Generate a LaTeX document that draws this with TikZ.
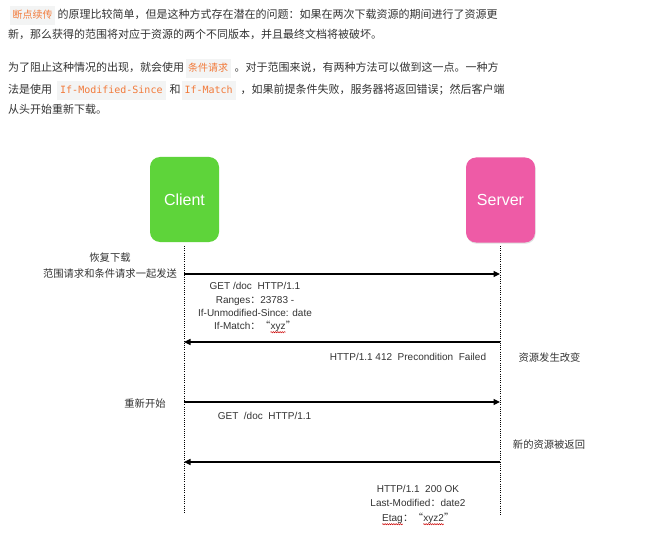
\documentclass[tikz,border=0pt]{standalone}
\usepackage{fontspec}
\setmainfont{Liberation Sans}
\newfontfamily\cjk{Noto Sans CJK SC}
\newfontfamily\codefont{DejaVu Sans Mono}
\usetikzlibrary{arrows.meta,shadows,decorations.pathmorphing}
\definecolor{txt}{HTML}{333333}
\definecolor{codefg}{HTML}{F27A3A}
\definecolor{codebg}{HTML}{F3F4F4}
\definecolor{cgreen}{HTML}{5ED43A}
\definecolor{spink}{HTML}{EE5BA6}
\newcommand{\hlcn}[1]{{\setlength{\fboxsep}{0pt}\colorbox{codebg}{\rule[-5.7bp]{0pt}{19bp}\hspace{2.5bp}{\cjk\fontsize{10bp}{10bp}\selectfont\color{codefg}#1}\hspace{2.5bp}}}}
\newcommand{\hlcode}[1]{{\setlength{\fboxsep}{0pt}\colorbox{codebg}{\rule[-5.7bp]{0pt}{19bp}\hspace{3bp}{\codefont\fontsize{10bp}{10bp}\selectfont\color{codefg}#1}\hspace{3bp}}}}
\newcommand{\squig}[1]{\tikz[baseline=(w.base)]{\node[inner sep=0pt,outer sep=0pt](w){#1};\draw[red!80!black,line width=0.5bp,decorate,decoration={snake,amplitude=0.6bp,segment length=2.2bp}]([yshift=-2.6bp]w.base west)--([yshift=-2.6bp]w.base east);}}
\newcommand{\fw}[1]{{\cjk #1}}
\begin{document}
\begin{tikzpicture}[x=1bp,y=-1bp,
  body/.style={anchor=base west,inner sep=0pt,text=txt,font={\cjk\fontsize{11bp}{20bp}\selectfont}},
  lbl/.style={anchor=base,inner sep=0pt,text=txt,font={\fontsize{10bp}{12bp}\selectfont}},
  cnlbl/.style={anchor=base,inner sep=0pt,text=txt,font={\cjk\fontsize{10.3bp}{12bp}\selectfont}},
  actor/.style={rounded corners=10bp,minimum width=69bp,minimum height=85bp,text=white,font={\fontsize{16bp}{18bp}\selectfont},inner sep=0pt},
  life/.style={line width=1bp,dash pattern=on 1bp off 1.2bp},
  msg/.style={line width=1.1bp,-{Triangle[length=6.5bp,width=6bp]}}]
\useasboundingbox (0,0) rectangle (658,556);
\fill[white] (0,0) rectangle (658,556);
% text paragraphs
\node[body] (p1) at (10,19) {\hlcn{断点续传}\hspace{2.5bp}的原理比较简单，但是这种方式存在潜在的问题：如果在两次下载资源的期间进行了资源更};
\node[body] (p2) at (8,39) {新，那么获得的范围将对应于资源的两个不同版本，并且最终文档将被破坏。};
\node[body] (p3) at (8,72) {为了阻止这种情况的出现，就会使用\hspace{1.5bp}\hlcn{条件请求}\hspace{4bp}。对于范围来说，有两种方法可以做到这一点。一种方};
\node[body] (p4) at (8,94) {法是使用\hspace{5bp}\hlcode{If-Modified-Since}\hspace{4bp}和\hspace{1bp}\hlcode{If-Match}\hspace{5bp}，如果前提条件失败，服务器将返回错误；然后客户端};
\node[body] (p5) at (8,114) {从头开始重新下载。};
% actors
\node[actor,fill=cgreen] (client) at (184.5,199.5) {Client};
\node[actor,fill=spink,drop shadow={shadow xshift=0.6bp,shadow yshift=-1.2bp,opacity=0.25}] (server) at (500.5,200) {Server};
% lifelines
\coordinate (ctop) at (184,246);
\coordinate (cbot) at (184,513);
\coordinate (stop) at (500,246);
\coordinate (sbot) at (500,515);
\draw[life] (ctop) -- (cbot);
\draw[life] (stop) -- (sbot);
% message anchors
\coordinate (c1) at (184,274); \coordinate (s1) at (500,274);
\coordinate (c2) at (184,342); \coordinate (s2) at (500,342);
\coordinate (c3) at (184,402); \coordinate (s3) at (500,402);
\coordinate (c4) at (184,462); \coordinate (s4) at (500,462);
\draw[msg] (c1) -- (s1);
\draw[msg] (s2) -- (c2);
\draw[msg] (c3) -- (s3);
\draw[msg] (s4) -- (c4);
% labels
\node[cnlbl] (l1a) at (110,262) {恢复下载};
\node[cnlbl] (l1b) at (110,277) {范围请求和条件请求一起发送};
\node[lbl] (r1) at (255,289.6) {GET /doc~ HTTP/1.1};
\node[lbl] (r2) at (255,303.6) {Ranges\fw{：}23783 -};
\node[lbl] (r3) at (255,316.6) {If-Unmodified-Since: date};
\node[lbl] (r4) at (255,329.6) {If-Match\fw{：}\fw{“}\squig{xyz}\fw{”}};
\node[lbl] (f1) at (408,360.6) {HTTP/1.1 412~ Precondition~ Failed};
\node[cnlbl] (f2) at (549.5,361) {资源发生改变};
\node[cnlbl] (g1) at (145,407) {重新开始};
\node[lbl] (g2) at (264.5,419.6) {GET~ /doc~ HTTP/1.1};
\node[cnlbl] (n1) at (549,448) {新的资源被返回};
\node[lbl] (o1) at (418,492.6) {HTTP/1.1~ 200 OK};
\node[lbl] (o2) at (418,506.6) {Last-Modified\fw{：}date2};
\node[lbl] (o3) at (418,521.6) {\squig{Etag}\fw{：}\fw{“}\squig{xyz2}\fw{”}};
\end{tikzpicture}
\end{document}
